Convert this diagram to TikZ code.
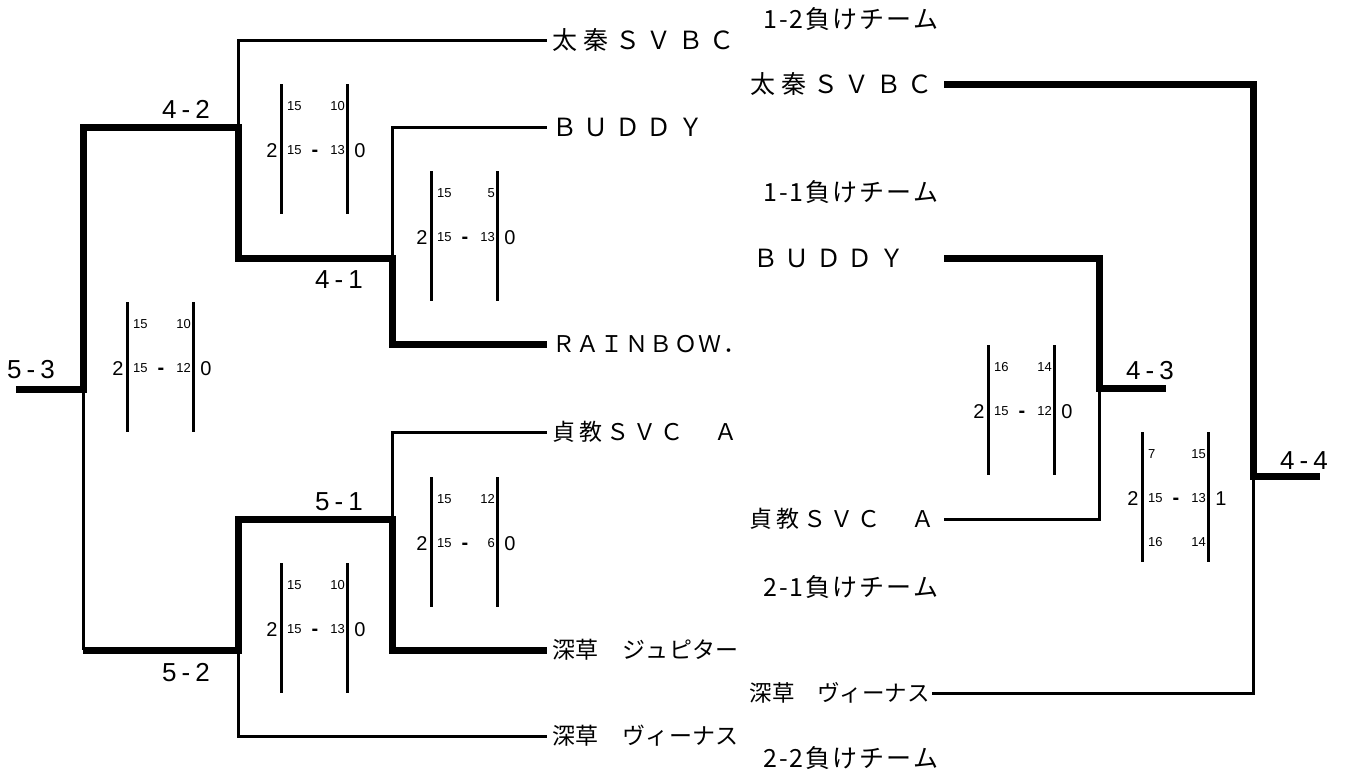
\documentclass[tikz,border=0pt]{standalone}
\usepackage{fontspec}
\setmainfont{Liberation Sans}
\newfontfamily\jp{Noto Sans CJK JP}
\ExplSyntaxOn
\NewDocumentCommand \spc { m m }
  {
    \kern -#1 \relax
    \tl_map_inline:nn { #2 } { \kern #1 \relax ##1 }
  }
\ExplSyntaxOff
\newcommand\scoreblk[8]{%
  \draw[sline] (#2,#3) -- ++(0,130);
  \draw[sline] (#2+66,#3) -- ++(0,130);
  \node[sm, anchor=west] (#1tl) at (#2+6,#3+22) {#4};
  \node[sm, anchor=east] (#1tr) at (#2+64,#3+22) {#5};
  \node[sm, anchor=west] (#1ml) at (#2+6,#3+66) {#6};
  \node[dsh, anchor=base] (#1d) at (#2+34,#3+72.6) {-};
  \node[sm, anchor=east] (#1mr) at (#2+64,#3+66) {#7};
  \node[big] (#1l) at (#2-9,#3+66) {2};
  \node[big] (#1r) at (#2+79,#3+66) {#8};
}
\begin{document}
\begin{tikzpicture}[x=1pt,y=-1pt,
  loser/.style={line width=3pt},
  winner/.style={line width=7pt, line join=miter},
  sline/.style={line width=3pt},
  sm/.style={font=\fontsize{13}{13}\selectfont, inner sep=0pt, text height=9.3pt, text depth=0pt},
  dsh/.style={font=\bfseries\fontsize{20}{20}\selectfont, inner sep=0pt},
  big/.style={font=\fontsize{20}{20}\selectfont, inner sep=0pt, text height=14.3pt, text depth=0pt},
  lbl/.style={font=\fontsize{26}{26}\selectfont, inner sep=0pt, text height=18.6pt, text depth=0pt},
  nBig/.style={font=\jp\fontsize{25}{25}\selectfont, inner ysep=0pt, text height=18.75pt, text depth=0pt},
  nMid/.style={font=\jp\fontsize{23}{23}\selectfont, inner ysep=0pt, text height=17.25pt, text depth=0pt},
  nSm/.style={font=\jp\fontsize{23}{23}\selectfont, inner ysep=0pt, text height=17.25pt, text depth=0pt},
  nSm2/.style={font=\jp\fontsize{22.5}{22.5}\selectfont, inner ysep=0pt, text height=16.9pt, text depth=0pt},
  nLose/.style={font=\jp\fontsize{25}{25}\selectfont, inner sep=0pt, text height=18.75pt, text depth=0pt},
]
\useasboundingbox (0,0) rectangle (1345,774);

% left team names
\node[nBig, anchor=west, inner xsep=5pt] (uzumasaL) at (547,40) {\spc{6.5pt}{太秦ＳＶＢＣ}};
\node[nBig, anchor=west, inner xsep=5pt] (buddyL) at (547,127) {\spc{6.5pt}{ＢＵＤＤＹ}};
\node[nMid, anchor=west, inner xsep=5pt] (rainbow) at (547,344) {\spc{1.4pt}{ＲＡＩＮＢＯＷ．}};
\node[nMid, anchor=west, inner xsep=5pt] (teikyoL) at (547,432) {\spc{4pt}{貞教ＳＶＣ　Ａ}};
\node[nSm, anchor=west, inner xsep=5pt] (jupiter) at (547,650) {\spc{0.4pt}{深草　ジュピター}};
\node[nSm, anchor=west, inner xsep=5pt] (venusL) at (547,736) {\spc{0.4pt}{深草　ヴィーナス}};

% right team names
\node[nBig, anchor=east, inner xsep=11pt] (uzumasaR) at (944,84) {\spc{6.5pt}{太秦ＳＶＢＣ}};
\node[nBig, anchor=east, inner xsep=8pt] (buddyR) at (944,258) {\spc{6.5pt}{ＢＵＤＤＹ　}};
\node[nMid, anchor=east, inner xsep=9pt] (teikyoR) at (944,519) {\spc{4pt}{貞教ＳＶＣ　Ａ}};
\node[nSm2, anchor=east, inner xsep=2pt] (venusR) at (932,693) {深草　ヴィーナス};

% loser placeholders
\node[nLose, anchor=west] (lose12) at (763,19) {\spc{2pt}{1-2負けチーム}};
\node[nLose, anchor=west] (lose11) at (763,192) {\spc{2pt}{1-1負けチーム}};
\node[nLose, anchor=west] (lose21) at (763,587) {\spc{2pt}{2-1負けチーム}};
\node[nLose, anchor=west] (lose22) at (763,758) {\spc{2pt}{2-2負けチーム}};

% junctions
\coordinate (s53) at (16,389);
\coordinate (m53) at (83,389);
\coordinate (c52) at (83,650);
\coordinate (m42) at (238,127);
\coordinate (m41) at (392,258);
\coordinate (m52) at (238,650);
\coordinate (m51) at (392,519);
\coordinate (m43) at (1099,388);
\coordinate (s43) at (1166,388);
\coordinate (m44) at (1253,476);
\coordinate (s44) at (1320,476);

% left bracket
\draw[loser] (m42) |- (uzumasaL.west);
\draw[loser] (m41) |- (buddyL.west);
\draw[loser] (m53) -- (c52);
\draw[loser] (m51) |- (teikyoL.west);
\draw[loser] (m52) |- (venusL.west);
\draw[winner] (s53) -- (m53) |- (m42) |- (m41) |- (rainbow.west);
\draw[winner] (c52) -- (m52) |- (m51) |- (jupiter.west);

% right bracket
\draw[loser] (teikyoR.east) -| (m43);
\draw[loser] (venusR.east) -| (m44);
\draw[winner] (buddyR.east) -| (m43) -- (s43);
\draw[winner] (uzumasaR.east) -| (m44) -- (s44);

% match labels
\node[lbl] (l53) at (31,369) {5\kern5pt-\kern5pt3};
\node[lbl] (l42) at (186,109) {4\kern5pt-\kern5pt2};
\node[lbl] (l41) at (339,279) {4\kern5pt-\kern5pt1};
\node[lbl] (l51) at (339,501) {5\kern5pt-\kern5pt1};
\node[lbl] (l52) at (186,672) {5\kern5pt-\kern5pt2};
\node[lbl] (l43) at (1150,370) {4\kern5pt-\kern5pt3};
\node[lbl] (l44) at (1304,460) {4\kern5pt-\kern5pt4};

% scores
\scoreblk{b42}{281}{84}{15}{10}{15}{13}{0}
\scoreblk{b41}{431}{171}{15}{5}{15}{13}{0}
\scoreblk{b53}{127}{302}{15}{10}{15}{12}{0}
\scoreblk{b52}{281}{563}{15}{10}{15}{13}{0}
\scoreblk{b51}{431}{477}{15}{12}{15}{6}{0}
\scoreblk{b43}{988}{345}{16}{14}{15}{12}{0}
\scoreblk{b44}{1142}{432}{7}{15}{15}{13}{1}
\node[sm, anchor=west] (b44bl) at (1148,542) {16};
\node[sm, anchor=east] (b44br) at (1206,542) {14};
\end{tikzpicture}
\end{document}
